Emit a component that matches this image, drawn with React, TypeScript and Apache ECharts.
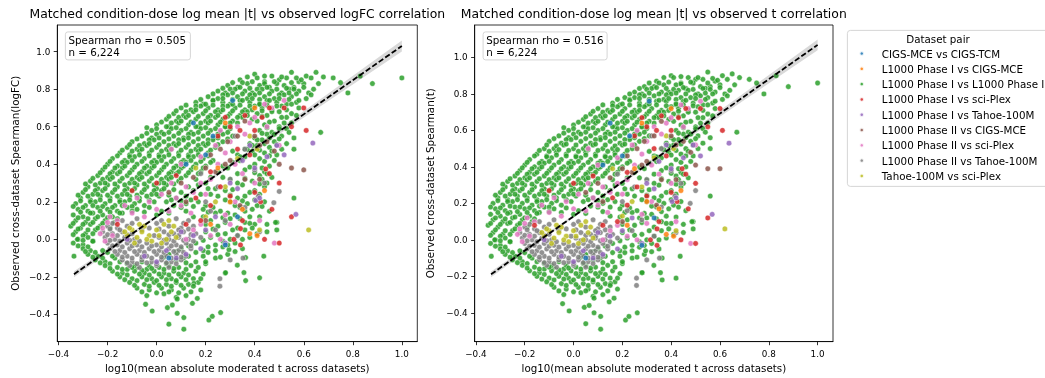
import React, { useEffect, useRef } from "react";
import * as echarts from "echarts";

const CATEGORIES = [
  "CIGS-MCE vs CIGS-TCM",
  "L1000 Phase I vs CIGS-MCE",
  "L1000 Phase I vs L1000 Phase I",
  "L1000 Phase I vs sci-Plex",
  "L1000 Phase I vs Tahoe-100M",
  "L1000 Phase II vs CIGS-MCE",
  "L1000 Phase II vs sci-Plex",
  "L1000 Phase II vs Tahoe-100M",
  "Tahoe-100M vs sci-Plex",
];
const COLORS = ["#1f77b4", "#ff7f0e", "#2ca02c", "#d62728", "#9467bd", "#8c564b", "#e377c2", "#7f7f7f", "#bcbd22"];

const TITLES = [
  "Matched condition-dose log mean |t| vs observed logFC correlation",
  "Matched condition-dose log mean |t| vs observed t correlation",
];
const Y_NAMES = ["Observed cross-dataset Spearman(logFC)", "Observed cross-dataset Spearman(t)"];
const X_NAME = "log10(mean absolute moderated t across datasets)";
const RHO = ["0.505", "0.516"];
const N_LABEL = "6,224";

const X_TICKS = [-0.4, -0.2, 0.0, 0.2, 0.4, 0.6, 0.8, 1.0];
const Y_TICKS = [-0.4, -0.2, 0.0, 0.2, 0.4, 0.6, 0.8, 1.0];

// regression fits and confidence bands
const FIT_X_FC = [-0.337, 1.0];
const FIT_Y_FC = [-0.186, 1.03];
const FIT_X_T = [-0.338, 1.0];
const FIT_Y_T = [-0.189, 1.069];
const BAND_X_FC = [-0.337, -0.1, 0.1, 0.4, 0.7, 1.0];
const BAND_LO_FC = [-0.202, 0.021, 0.205, 0.472, 0.737, 1.001];
const BAND_HI_FC = [-0.17, 0.039, 0.219, 0.496, 0.777, 1.059];
const BAND_X_T = [-0.338, -0.1, 0.1, 0.4, 0.7, 1.0];
const BAND_LO_T = [-0.205, 0.026, 0.216, 0.493, 0.767, 1.04];
const BAND_HI_T = [-0.173, 0.044, 0.23, 0.517, 0.807, 1.098];

// points: [x, Spearman(logFC), Spearman(t)]
const GREEN = [
[0.40,0.88,0.90],[0.47,0.87,0.89],[0.55,0.89,0.92],[0.61,0.87,0.90],[0.65,0.89,0.91],
[0.34,0.85,0.87],[0.41,0.86,0.89],[0.44,0.84,0.86],[0.50,0.85,0.88],[0.53,0.86,0.88],[0.58,0.84,0.87],[0.63,0.86,0.88],[0.72,0.86,0.88],[0.83,0.87,0.90],[1.00,0.86,0.86],
[0.29,0.82,0.84],[0.33,0.81,0.84],[0.37,0.83,0.85],[0.42,0.82,0.85],[0.46,0.81,0.83],[0.49,0.83,0.86],[0.52,0.82,0.84],[0.56,0.81,0.84],[0.60,0.83,0.85],[0.75,0.835,0.86],[0.88,0.83,0.84],
[0.25,0.79,0.81],[0.28,0.78,0.80],[0.32,0.80,0.83],[0.36,0.79,0.81],[0.39,0.78,0.81],[0.43,0.80,0.82],[0.47,0.79,0.82],[0.51,0.78,0.80],[0.54,0.80,0.83],[0.58,0.79,0.81],[0.62,0.78,0.80],[0.78,0.78,0.80],
[0.21,0.76,0.78],[0.25,0.75,0.78],[0.29,0.77,0.79],[0.33,0.76,0.79],[0.37,0.75,0.77],[0.40,0.77,0.80],[0.44,0.76,0.78],[0.48,0.75,0.78],[0.52,0.77,0.79],[0.55,0.76,0.78],[0.61,0.75,0.77],
[0.16,0.73,0.75],[0.19,0.72,0.74],[0.23,0.74,0.77],[0.27,0.73,0.75],[0.30,0.72,0.74],[0.34,0.74,0.76],[0.38,0.73,0.76],[0.42,0.72,0.74],[0.45,0.74,0.76],[0.49,0.73,0.75],[0.53,0.72,0.74],[0.57,0.73,0.75],
[0.10,0.70,0.72],[0.14,0.69,0.71],[0.18,0.71,0.73],[0.21,0.70,0.72],[0.25,0.69,0.71],[0.29,0.71,0.73],[0.32,0.70,0.72],[0.36,0.69,0.71],[0.40,0.71,0.73],[0.43,0.70,0.72],[0.47,0.69,0.71],[0.51,0.71,0.73],[0.58,0.70,0.72],
[0.07,0.67,0.69],[0.11,0.66,0.68],[0.15,0.68,0.70],[0.19,0.67,0.69],[0.22,0.66,0.68],[0.26,0.68,0.70],[0.30,0.67,0.69],[0.34,0.66,0.68],[0.37,0.68,0.70],[0.41,0.67,0.69],[0.45,0.66,0.68],[0.50,0.68,0.70],[0.55,0.67,0.69],
[0.04,0.64,0.66],[0.08,0.63,0.65],[0.12,0.65,0.67],[0.16,0.64,0.66],[0.20,0.63,0.65],[0.24,0.65,0.67],[0.27,0.64,0.66],[0.31,0.63,0.65],[0.35,0.65,0.67],[0.39,0.64,0.66],[0.48,0.63,0.65],[0.53,0.65,0.67],
[0.00,0.61,0.63],[0.05,0.60,0.62],[0.09,0.62,0.64],[0.13,0.61,0.63],[0.17,0.60,0.62],[0.21,0.62,0.64],[0.25,0.61,0.63],[0.28,0.60,0.62],[0.33,0.62,0.64],[0.44,0.61,0.63],[0.50,0.60,0.62],[0.55,0.62,0.64],
[-0.02,0.58,0.60],[0.02,0.57,0.59],[0.06,0.59,0.61],[0.10,0.58,0.60],[0.14,0.57,0.59],[0.18,0.59,0.61],[0.22,0.58,0.60],[0.26,0.57,0.59],[0.30,0.59,0.61],[0.42,0.58,0.60],[0.47,0.57,0.59],[0.53,0.59,0.61],
[-0.06,0.55,0.57],[-0.02,0.54,0.56],[0.03,0.56,0.58],[0.07,0.55,0.57],[0.11,0.54,0.56],[0.15,0.56,0.58],[0.19,0.55,0.57],[0.23,0.54,0.56],[0.27,0.56,0.58],[0.31,0.55,0.57],[0.40,0.54,0.56],[0.45,0.56,0.58],[0.51,0.55,0.57],[0.56,0.54,0.56],
[-0.10,0.52,0.54],[-0.05,0.51,0.53],[-0.01,0.53,0.55],[0.03,0.52,0.54],[0.07,0.51,0.53],[0.11,0.53,0.55],[0.15,0.52,0.54],[0.19,0.51,0.53],[0.23,0.53,0.55],[0.27,0.52,0.54],[0.38,0.51,0.53],[0.43,0.53,0.55],[0.48,0.52,0.54],[0.53,0.51,0.53],
[-0.12,0.49,0.50],[-0.08,0.48,0.50],[-0.04,0.50,0.52],[0.00,0.49,0.50],[0.04,0.48,0.50],[0.08,0.50,0.52],[0.12,0.49,0.50],[0.16,0.48,0.50],[0.20,0.50,0.52],[0.24,0.49,0.50],[0.36,0.48,0.50],[0.41,0.50,0.52],[0.46,0.49,0.50],[0.51,0.48,0.50],
[-0.15,0.46,0.47],[-0.11,0.45,0.46],[-0.07,0.47,0.48],[-0.03,0.46,0.47],[0.01,0.45,0.46],[0.05,0.47,0.48],[0.09,0.46,0.47],[0.13,0.45,0.46],[0.17,0.47,0.48],[0.21,0.46,0.47],[0.33,0.45,0.46],[0.39,0.47,0.48],[0.44,0.46,0.47],[0.49,0.45,0.46],
[-0.18,0.43,0.44],[-0.13,0.42,0.43],[-0.09,0.44,0.45],[-0.05,0.43,0.44],[-0.01,0.42,0.43],[0.03,0.44,0.45],[0.07,0.43,0.44],[0.11,0.42,0.43],[0.15,0.44,0.45],[0.19,0.43,0.44],[0.23,0.42,0.43],[0.36,0.44,0.45],[0.42,0.43,0.44],[0.48,0.42,0.43],
[-0.20,0.40,0.41],[-0.16,0.39,0.40],[-0.12,0.41,0.42],[-0.08,0.40,0.41],[-0.04,0.39,0.40],[0.00,0.41,0.42],[0.04,0.40,0.41],[0.08,0.39,0.40],[0.12,0.41,0.42],[0.16,0.40,0.41],[0.20,0.39,0.40],[0.31,0.41,0.42],[0.40,0.40,0.41],[0.46,0.39,0.40],
[-0.22,0.37,0.38],[-0.18,0.36,0.37],[-0.14,0.38,0.39],[-0.10,0.37,0.38],[-0.06,0.36,0.37],[-0.02,0.38,0.39],[0.02,0.37,0.38],[0.06,0.36,0.37],[0.10,0.38,0.39],[0.14,0.37,0.38],[0.18,0.36,0.37],[0.29,0.38,0.39],[0.36,0.37,0.38],[0.44,0.36,0.37],
[-0.24,0.34,0.35],[-0.20,0.33,0.34],[-0.16,0.35,0.36],[-0.12,0.34,0.35],[-0.08,0.33,0.34],[-0.04,0.35,0.36],[0.00,0.34,0.35],[0.04,0.33,0.34],[0.08,0.35,0.36],[0.12,0.34,0.35],[0.22,0.33,0.34],[0.33,0.35,0.36],[0.42,0.34,0.35],[0.47,0.33,0.34],
[-0.27,0.31,0.32],[-0.23,0.30,0.31],[-0.19,0.32,0.33],[-0.15,0.31,0.32],[-0.11,0.30,0.31],[-0.07,0.32,0.33],[-0.03,0.31,0.32],[0.01,0.30,0.31],[0.05,0.32,0.33],[0.09,0.31,0.32],[0.20,0.30,0.31],[0.30,0.32,0.33],[0.39,0.31,0.32],[0.45,0.30,0.31],
[-0.28,0.28,0.29],[-0.24,0.27,0.28],[-0.20,0.29,0.30],[-0.16,0.28,0.29],[-0.12,0.27,0.28],[-0.08,0.29,0.30],[-0.04,0.28,0.29],[0.00,0.27,0.28],[0.04,0.29,0.30],[0.13,0.28,0.29],[0.24,0.27,0.28],[0.35,0.29,0.30],[0.44,0.28,0.29],
[-0.30,0.25,0.26],[-0.26,0.24,0.25],[-0.22,0.26,0.27],[-0.18,0.25,0.26],[-0.14,0.24,0.25],[-0.10,0.26,0.27],[-0.06,0.25,0.26],[-0.02,0.24,0.25],[0.02,0.26,0.27],[0.10,0.25,0.26],[0.18,0.24,0.25],[0.28,0.26,0.27],[0.38,0.25,0.26],[0.42,0.24,0.25],
[-0.31,0.22,0.23],[-0.27,0.21,0.22],[-0.23,0.23,0.24],[-0.19,0.22,0.23],[-0.15,0.21,0.22],[-0.11,0.23,0.24],[-0.07,0.22,0.23],[-0.03,0.21,0.22],[0.01,0.23,0.24],[0.08,0.22,0.23],[0.14,0.21,0.22],[0.25,0.23,0.24],[0.33,0.22,0.23],[0.40,0.21,0.22],[0.56,0.22,0.24],
[-0.33,0.19,0.20],[-0.29,0.18,0.19],[-0.25,0.20,0.21],[-0.21,0.19,0.20],[-0.17,0.18,0.19],[-0.13,0.20,0.21],[-0.09,0.19,0.20],[-0.05,0.18,0.19],[0.04,0.20,0.21],[0.12,0.19,0.20],[0.20,0.18,0.19],[0.30,0.20,0.21],[0.37,0.19,0.20],[0.41,0.18,0.19],
[-0.32,0.16,0.17],[-0.28,0.15,0.16],[-0.24,0.17,0.18],[-0.20,0.16,0.17],[-0.16,0.15,0.16],[-0.12,0.17,0.18],[-0.08,0.16,0.17],[0.02,0.15,0.16],[0.10,0.17,0.18],[0.19,0.16,0.17],[0.26,0.15,0.16],[0.34,0.17,0.18],[0.39,0.16,0.17],[0.46,0.15,0.16],
[-0.34,0.13,0.14],[-0.30,0.12,0.13],[-0.26,0.14,0.15],[-0.22,0.13,0.14],[-0.18,0.12,0.13],[-0.14,0.14,0.15],[0.00,0.13,0.14],[0.15,0.12,0.13],[0.24,0.14,0.15],[0.32,0.13,0.14],[0.38,0.12,0.13],
[-0.33,0.10,0.11],[-0.29,0.09,0.10],[-0.25,0.11,0.12],[-0.21,0.10,0.11],[-0.17,0.09,0.10],[0.22,0.10,0.11],[0.30,0.11,0.12],[0.36,0.09,0.10],[0.49,0.09,0.10],
[-0.35,0.07,0.08],[-0.31,0.06,0.07],[-0.27,0.08,0.09],[-0.23,0.07,0.08],[-0.19,0.06,0.07],[0.25,0.07,0.08],[0.33,0.06,0.07],[0.40,0.08,0.09],
[-0.33,0.04,0.04],[-0.29,0.03,0.03],[-0.25,0.05,0.05],[0.20,0.04,0.04],[0.28,0.03,0.03],[0.36,0.05,0.05],[0.45,0.04,0.04],[0.49,0.05,0.06],
[-0.32,0.00,0.00],[-0.28,0.01,0.01],[0.22,0.01,0.01],[0.30,0.00,0.00],[0.38,0.01,0.01],
[-0.34,-0.02,-0.02],[-0.30,-0.03,-0.03],[-0.26,-0.01,-0.01],[0.16,-0.02,-0.02],[0.24,-0.03,-0.03],[0.32,-0.02,-0.02],
[-0.30,-0.05,-0.05],[-0.27,-0.06,-0.06],[0.10,-0.05,-0.05],[0.19,-0.06,-0.06],[0.27,-0.04,-0.04],[0.35,-0.05,-0.05],
[-0.28,-0.08,-0.08],[-0.24,-0.09,-0.09],[-0.20,-0.07,-0.07],[0.05,-0.08,-0.08],[0.13,-0.09,-0.09],[0.21,-0.07,-0.07],[0.29,-0.08,-0.08],
[-0.25,-0.11,-0.11],[-0.21,-0.12,-0.12],[-0.17,-0.10,-0.10],[-0.12,-0.13,-0.13],[-0.06,-0.12,-0.12],[0.00,-0.13,-0.13],[0.08,-0.11,-0.11],[0.16,-0.12,-0.12],[0.24,-0.10,-0.10],
[-0.21,-0.14,-0.14],[-0.16,-0.15,-0.15],[-0.12,-0.16,-0.16],[-0.08,-0.15,-0.15],[-0.04,-0.16,-0.16],[0.01,-0.15,-0.15],[0.05,-0.14,-0.14],[0.09,-0.15,-0.15],[0.14,-0.14,-0.14],[0.20,-0.13,-0.13],
[-0.18,-0.17,-0.17],[-0.14,-0.18,-0.18],[-0.09,-0.17,-0.17],[-0.05,-0.18,-0.18],[-0.01,-0.17,-0.17],[0.03,-0.18,-0.18],[0.07,-0.17,-0.17],[0.11,-0.18,-0.18],[0.16,-0.17,-0.17],[0.28,-0.18,-0.18],
[-0.15,-0.20,-0.20],[-0.10,-0.21,-0.21],[-0.06,-0.20,-0.20],[-0.02,-0.21,-0.21],[0.02,-0.20,-0.20],[0.06,-0.21,-0.21],[0.10,-0.20,-0.20],[0.15,-0.21,-0.21],
[-0.11,-0.23,-0.23],[-0.05,-0.24,-0.24],[-0.01,-0.23,-0.23],[0.04,-0.24,-0.24],[0.08,-0.23,-0.23],[0.13,-0.24,-0.24],[0.17,-0.23,-0.23],
[-0.08,-0.26,-0.26],[-0.03,-0.27,-0.27],[0.02,-0.26,-0.26],[0.06,-0.27,-0.27],[0.11,-0.26,-0.26],[0.18,-0.27,-0.27],
[-0.04,-0.30,-0.30],[0.03,-0.29,-0.29],[0.08,-0.31,-0.31],[0.12,-0.30,-0.30],
[-0.045,-0.346,-0.35],[0.044,-0.364,-0.37],[0.084,-0.318,-0.32],[0.146,-0.341,-0.34],[0.166,-0.315,-0.32],[0.064,-0.35,-0.36],[-0.018,-0.382,-0.39],[0.084,-0.394,-0.40],[0.111,-0.417,-0.42],[0.05,-0.452,-0.46],[0.111,-0.479,-0.49],[0.213,-0.43,-0.44],[0.227,-0.41,-0.42],[0.261,-0.39,-0.40],[0.281,-0.178,-0.18],[0.329,-0.138,-0.14],[0.356,-0.177,-0.18],[0.363,-0.22,-0.22],[0.42,-0.205,-0.21],[0.437,-0.09,-0.09],[0.363,-0.097,-0.10],[0.152,-0.235,-0.24],[0.295,-0.055,-0.06],[-0.337,-0.09,-0.09],[-0.323,0.0,0.0],[0.669,0.57,0.59],[0.56,0.48,0.50],[0.485,0.09,0.10],
[0.37,0.865,0.89],[0.44,0.87,0.895],[0.51,0.865,0.89],[0.57,0.86,0.885],[0.68,0.865,0.89],
[0.31,0.835,0.86],[0.35,0.835,0.86],[0.39,0.84,0.865],[0.44,0.83,0.855],[0.48,0.84,0.865],[0.55,0.835,0.86],[0.59,0.85,0.875],[0.66,0.83,0.85],
[0.27,0.805,0.83],[0.30,0.80,0.825],[0.34,0.81,0.835],[0.38,0.805,0.83],[0.41,0.80,0.825],[0.45,0.81,0.835],[0.49,0.80,0.825],[0.53,0.805,0.83],[0.56,0.80,0.825],[0.60,0.81,0.835],[0.64,0.80,0.82],
[0.23,0.775,0.80],[0.27,0.77,0.795],[0.31,0.78,0.805],[0.35,0.775,0.80],[0.38,0.77,0.795],[0.42,0.78,0.805],[0.46,0.775,0.80],[0.50,0.77,0.795],[0.54,0.78,0.805],[0.57,0.775,0.80],[0.63,0.77,0.79],
[0.18,0.745,0.77],[0.23,0.74,0.765],[0.27,0.75,0.775],[0.31,0.745,0.77],[0.35,0.74,0.765],[0.39,0.75,0.775],[0.42,0.745,0.77],[0.46,0.74,0.765],[0.50,0.75,0.775],[0.54,0.745,0.77],[0.58,0.74,0.76],
[0.12,0.715,0.74],[0.16,0.71,0.735],[0.20,0.72,0.745],[0.23,0.715,0.74],[0.27,0.71,0.735],[0.31,0.72,0.745],[0.34,0.715,0.74],[0.38,0.71,0.735],[0.42,0.72,0.745],[0.45,0.715,0.74],[0.49,0.71,0.735],[0.55,0.72,0.74],
[0.08,0.685,0.705],[0.12,0.68,0.70],[0.16,0.69,0.71],[0.20,0.685,0.705],[0.24,0.68,0.70],[0.27,0.69,0.71],[0.31,0.685,0.705],[0.35,0.68,0.70],[0.39,0.69,0.71],[0.43,0.685,0.705],[0.47,0.68,0.70],[0.53,0.69,0.71],
[0.05,0.655,0.675],[0.09,0.65,0.67],[0.13,0.66,0.68],[0.17,0.655,0.675],[0.21,0.65,0.67],[0.25,0.66,0.68],[0.29,0.655,0.675],[0.33,0.65,0.67],[0.37,0.66,0.68],[0.43,0.655,0.675],[0.51,0.65,0.67],[0.57,0.66,0.68],
[0.02,0.625,0.645],[0.06,0.62,0.64],[0.10,0.63,0.65],[0.14,0.625,0.645],[0.18,0.62,0.64],[0.22,0.63,0.65],[0.26,0.625,0.645],[0.30,0.62,0.64],[0.41,0.63,0.65],[0.46,0.625,0.645],[0.52,0.62,0.64],
[-0.04,0.595,0.615],[0.00,0.59,0.61],[0.04,0.60,0.62],[0.08,0.595,0.615],[0.12,0.59,0.61],[0.16,0.60,0.62],[0.20,0.595,0.615],[0.24,0.59,0.61],[0.28,0.60,0.62],[0.45,0.595,0.615],[0.50,0.59,0.61],
[-0.04,0.565,0.585],[0.00,0.56,0.58],[0.05,0.57,0.59],[0.09,0.565,0.585],[0.13,0.56,0.58],[0.17,0.57,0.59],[0.21,0.565,0.585],[0.25,0.56,0.58],[0.29,0.57,0.59],[0.43,0.565,0.585],[0.48,0.56,0.58],[0.54,0.57,0.59],
[-0.08,0.535,0.555],[-0.03,0.53,0.55],[0.01,0.54,0.56],[0.05,0.535,0.555],[0.09,0.53,0.55],[0.13,0.54,0.56],[0.17,0.535,0.555],[0.21,0.53,0.55],[0.25,0.54,0.56],[0.29,0.535,0.555],[0.41,0.53,0.55],[0.46,0.54,0.56],[0.50,0.535,0.555],
[-0.11,0.505,0.52],[-0.07,0.50,0.515],[-0.03,0.51,0.525],[0.01,0.505,0.52],[0.05,0.50,0.515],[0.09,0.51,0.525],[0.13,0.505,0.52],[0.17,0.50,0.515],[0.21,0.51,0.525],[0.25,0.505,0.52],[0.39,0.50,0.515],[0.44,0.51,0.525],[0.49,0.505,0.52],
[-0.14,0.475,0.49],[-0.10,0.47,0.485],[-0.06,0.48,0.495],[-0.02,0.475,0.49],[0.02,0.47,0.485],[0.06,0.48,0.495],[0.10,0.475,0.49],[0.14,0.47,0.485],[0.18,0.48,0.495],[0.22,0.475,0.49],[0.31,0.47,0.485],[0.37,0.48,0.495],[0.42,0.475,0.49],[0.47,0.47,0.485],
[-0.16,0.445,0.46],[-0.11,0.44,0.455],[-0.07,0.45,0.465],[-0.03,0.445,0.46],[0.01,0.44,0.455],[0.05,0.45,0.465],[0.09,0.445,0.46],[0.13,0.44,0.455],[0.17,0.45,0.465],[0.21,0.445,0.46],[0.34,0.44,0.455],[0.40,0.45,0.465],[0.46,0.445,0.46],
[-0.19,0.415,0.425],[-0.14,0.41,0.42],[-0.10,0.42,0.43],[-0.06,0.415,0.425],[-0.02,0.41,0.42],[0.02,0.42,0.43],[0.06,0.415,0.425],[0.10,0.41,0.42],[0.14,0.42,0.43],[0.18,0.415,0.425],[0.22,0.41,0.42],[0.34,0.42,0.43],[0.44,0.415,0.425],
[-0.21,0.385,0.395],[-0.17,0.38,0.39],[-0.13,0.39,0.40],[-0.09,0.385,0.395],[-0.05,0.38,0.39],[-0.01,0.39,0.40],[0.03,0.385,0.395],[0.07,0.38,0.39],[0.11,0.39,0.40],[0.15,0.385,0.395],[0.19,0.38,0.39],[0.27,0.39,0.40],[0.38,0.385,0.395],[0.43,0.38,0.39],
[-0.23,0.355,0.365],[-0.19,0.35,0.36],[-0.15,0.36,0.37],[-0.11,0.355,0.365],[-0.07,0.35,0.36],[-0.03,0.36,0.37],[0.01,0.355,0.365],[0.05,0.35,0.36],[0.09,0.36,0.37],[0.13,0.355,0.365],[0.17,0.35,0.36],[0.25,0.36,0.37],[0.40,0.355,0.365],[0.45,0.35,0.36],
[-0.26,0.325,0.335],[-0.22,0.32,0.33],[-0.18,0.33,0.34],[-0.14,0.325,0.335],[-0.10,0.32,0.33],[-0.06,0.33,0.34],[-0.02,0.325,0.335],[0.02,0.32,0.33],[0.06,0.33,0.34],[0.10,0.325,0.335],[0.16,0.32,0.33],[0.27,0.33,0.34],[0.36,0.325,0.335],[0.43,0.32,0.33],
[-0.29,0.295,0.305],[-0.25,0.29,0.30],[-0.21,0.30,0.31],[-0.17,0.295,0.305],[-0.13,0.29,0.30],[-0.09,0.30,0.31],[-0.05,0.295,0.305],[-0.01,0.29,0.30],[0.03,0.30,0.31],[0.07,0.295,0.305],[0.17,0.29,0.30],[0.33,0.30,0.31],[0.42,0.295,0.305],
[-0.29,0.265,0.275],[-0.25,0.26,0.27],[-0.21,0.27,0.28],[-0.17,0.265,0.275],[-0.13,0.26,0.27],[-0.09,0.27,0.28],[-0.05,0.265,0.275],[-0.01,0.26,0.27],[0.03,0.27,0.28],[0.07,0.265,0.275],[0.15,0.26,0.27],[0.21,0.27,0.28],[0.31,0.265,0.275],[0.40,0.26,0.27],
[-0.32,0.235,0.245],[-0.28,0.23,0.24],[-0.24,0.24,0.25],[-0.20,0.235,0.245],[-0.16,0.23,0.24],[-0.12,0.24,0.25],[-0.08,0.235,0.245],[-0.04,0.23,0.24],[0.00,0.24,0.25],[0.05,0.235,0.245],[0.12,0.23,0.24],[0.22,0.24,0.25],[0.30,0.235,0.245],[0.36,0.23,0.24],
[-0.31,0.205,0.215],[-0.27,0.20,0.21],[-0.23,0.21,0.22],[-0.19,0.205,0.215],[-0.15,0.20,0.21],[-0.11,0.21,0.22],[-0.07,0.205,0.215],[-0.01,0.20,0.21],[0.06,0.21,0.22],[0.10,0.205,0.215],[0.17,0.20,0.21],[0.28,0.21,0.22],[0.35,0.205,0.215],[0.44,0.20,0.21],
[-0.34,0.175,0.18],[-0.30,0.17,0.175],[-0.26,0.18,0.185],[-0.22,0.175,0.18],[-0.18,0.17,0.175],[-0.14,0.18,0.185],[-0.10,0.175,0.18],[-0.03,0.17,0.175],[0.07,0.18,0.185],[0.15,0.175,0.18],[0.23,0.17,0.175],[0.32,0.18,0.185],[0.43,0.175,0.18],
[-0.31,0.145,0.15],[-0.27,0.14,0.145],[-0.23,0.15,0.155],[-0.19,0.145,0.15],[-0.15,0.14,0.145],[-0.10,0.15,0.155],[-0.05,0.145,0.15],[0.05,0.14,0.145],[0.12,0.15,0.155],[0.21,0.145,0.15],[0.29,0.14,0.145],[0.36,0.15,0.155],
[-0.32,0.115,0.12],[-0.28,0.11,0.115],[-0.24,0.12,0.125],[-0.20,0.115,0.12],[-0.16,0.11,0.115],[0.19,0.12,0.125],[0.27,0.115,0.12],[0.34,0.11,0.115],[0.42,0.12,0.125],
[-0.34,0.085,0.09],[-0.30,0.08,0.085],[-0.26,0.09,0.095],[-0.22,0.085,0.09],[0.20,0.08,0.085],[0.28,0.09,0.095],[0.38,0.085,0.09],[0.45,0.08,0.085],
[-0.32,0.055,0.055],[-0.28,0.05,0.05],[-0.24,0.06,0.06],[0.23,0.055,0.055],[0.31,0.05,0.05],[0.39,0.06,0.06],
[-0.34,0.025,0.025],[-0.30,0.02,0.02],[-0.26,0.03,0.03],[0.25,0.025,0.025],[0.33,0.02,0.02],[0.41,0.03,0.03],
[-0.30,-0.005,-0.005],[-0.26,-0.01,-0.01],[0.19,-0.005,-0.005],[0.27,-0.01,-0.01],[0.35,0.00,0.00],
[-0.32,-0.035,-0.035],[-0.28,-0.04,-0.04],[0.13,-0.035,-0.035],[0.21,-0.04,-0.04],[0.29,-0.03,-0.03],
[-0.29,-0.065,-0.065],[-0.25,-0.07,-0.07],[-0.22,-0.06,-0.06],[0.08,-0.065,-0.065],[0.16,-0.07,-0.07],[0.24,-0.06,-0.06],[0.32,-0.065,-0.065],
[-0.26,-0.095,-0.095],[-0.22,-0.10,-0.10],[-0.18,-0.09,-0.09],[0.03,-0.095,-0.095],[0.11,-0.10,-0.10],[0.19,-0.09,-0.09],[0.26,-0.095,-0.095],
[-0.23,-0.125,-0.125],[-0.19,-0.13,-0.13],[-0.15,-0.12,-0.12],[-0.09,-0.14,-0.14],[-0.03,-0.14,-0.14],[0.04,-0.13,-0.13],[0.12,-0.125,-0.125],[0.20,-0.12,-0.12],
[-0.19,-0.155,-0.155],[-0.14,-0.16,-0.16],[-0.10,-0.15,-0.15],[-0.06,-0.165,-0.165],[-0.02,-0.155,-0.155],[0.03,-0.16,-0.16],[0.07,-0.155,-0.155],[0.12,-0.16,-0.16],[0.17,-0.15,-0.15],
[-0.16,-0.185,-0.185],[-0.12,-0.19,-0.19],[-0.07,-0.185,-0.185],[-0.03,-0.19,-0.19],[0.01,-0.185,-0.185],[0.05,-0.19,-0.19],[0.09,-0.185,-0.185],[0.13,-0.19,-0.19],[0.19,-0.185,-0.185],
[-0.13,-0.215,-0.215],[-0.08,-0.22,-0.22],[-0.04,-0.215,-0.215],[0.00,-0.22,-0.22],[0.04,-0.215,-0.215],[0.08,-0.22,-0.22],[0.12,-0.215,-0.215],[0.18,-0.21,-0.21],
[-0.09,-0.245,-0.245],[-0.03,-0.25,-0.25],[0.01,-0.245,-0.245],[0.06,-0.25,-0.25],[0.10,-0.245,-0.245],[0.15,-0.25,-0.25],
[-0.06,-0.28,-0.28],[0.00,-0.285,-0.285],[0.05,-0.28,-0.28],[0.09,-0.285,-0.285],[0.14,-0.28,-0.28],
];

const GRAY = [
[-0.14,0.10,0.10],[-0.08,0.11,0.11],[0.02,0.10,0.10],[0.08,0.11,0.11],[0.13,0.10,0.10],
[-0.20,0.07,0.07],[-0.16,0.06,0.06],[-0.12,0.07,0.07],[-0.03,0.06,0.06],[0.05,0.07,0.07],[0.10,0.06,0.06],[0.15,0.07,0.07],
[-0.22,0.04,0.04],[-0.18,0.03,0.03],[-0.14,0.04,0.04],[-0.10,0.03,0.03],[0.03,0.04,0.04],[0.07,0.03,0.03],[0.11,0.04,0.04],[0.16,0.03,0.03],
[-0.21,0.01,0.01],[-0.17,0.00,0.00],[-0.13,0.01,0.01],[-0.09,0.00,0.00],[0.01,0.01,0.01],[0.05,0.00,0.00],[0.09,0.01,0.01],[0.13,0.00,0.00],[0.18,0.01,0.01],
[-0.20,-0.02,-0.02],[-0.16,-0.03,-0.03],[-0.12,-0.02,-0.02],[-0.08,-0.03,-0.03],[-0.04,-0.02,-0.02],[0.00,-0.03,-0.03],[0.04,-0.02,-0.02],[0.08,-0.03,-0.03],[0.12,-0.02,-0.02],
[-0.19,-0.05,-0.05],[-0.15,-0.06,-0.06],[-0.11,-0.05,-0.05],[-0.07,-0.06,-0.06],[-0.03,-0.05,-0.05],[0.01,-0.06,-0.06],[0.05,-0.05,-0.05],[0.09,-0.06,-0.06],[0.14,-0.05,-0.05],
[-0.16,-0.08,-0.08],[-0.12,-0.09,-0.09],[-0.08,-0.08,-0.08],[-0.04,-0.09,-0.09],[0.00,-0.08,-0.08],[0.04,-0.09,-0.09],[0.08,-0.08,-0.08],[0.12,-0.09,-0.09],
[-0.14,-0.11,-0.11],[-0.10,-0.12,-0.12],[-0.06,-0.11,-0.11],[-0.02,-0.12,-0.12],[0.02,-0.11,-0.11],[0.06,-0.12,-0.12],[0.10,-0.11,-0.11],
[-0.11,-0.14,-0.14],[-0.07,-0.15,-0.15],[0.00,-0.14,-0.14],[0.05,-0.15,-0.15],
[-0.18,0.085,0.085],[-0.10,0.085,0.085],[0.00,0.085,0.085],[0.11,0.085,0.085],
[-0.19,0.055,0.055],[-0.15,0.05,0.05],[-0.06,0.05,0.05],[0.01,0.055,0.055],[0.09,0.05,0.05],[0.13,0.055,0.055],
[-0.20,0.025,0.025],[-0.16,0.02,0.02],[-0.12,0.025,0.025],[-0.01,0.02,0.02],[0.05,0.025,0.025],[0.09,0.02,0.02],[0.14,0.025,0.025],
[-0.19,-0.005,-0.005],[-0.15,-0.01,-0.01],[-0.11,-0.005,-0.005],[-0.07,-0.01,-0.01],[0.03,-0.005,-0.005],[0.07,-0.01,-0.01],[0.11,-0.005,-0.005],[0.15,-0.01,-0.01],
[-0.18,-0.035,-0.035],[-0.14,-0.04,-0.04],[-0.10,-0.035,-0.035],[-0.06,-0.04,-0.04],[-0.02,-0.035,-0.035],[0.02,-0.04,-0.04],[0.06,-0.035,-0.035],[0.10,-0.04,-0.04],[0.14,-0.035,-0.035],
[-0.17,-0.065,-0.065],[-0.13,-0.07,-0.07],[-0.09,-0.065,-0.065],[-0.05,-0.07,-0.07],[-0.01,-0.065,-0.065],[0.03,-0.07,-0.07],[0.07,-0.065,-0.065],[0.11,-0.07,-0.07],
[-0.14,-0.095,-0.095],[-0.10,-0.10,-0.10],[-0.06,-0.095,-0.095],[-0.02,-0.10,-0.10],[0.02,-0.095,-0.095],[0.06,-0.10,-0.10],[0.10,-0.095,-0.095],
[-0.12,-0.125,-0.125],[-0.08,-0.13,-0.13],[-0.04,-0.125,-0.125],[0.00,-0.13,-0.13],[0.04,-0.125,-0.125],[0.08,-0.13,-0.13],
[0.20,0.20,0.21],[0.25,0.28,0.29],[0.30,0.32,0.33],[0.22,0.15,0.16],[0.28,0.10,0.11],[0.18,0.35,0.36],[0.32,0.55,0.57],[0.36,0.48,0.50],[0.40,0.37,0.38],[0.415,0.23,0.24],[0.478,0.195,0.20],[0.50,0.255,0.27],[0.352,-0.10,-0.10],[0.258,-0.21,-0.21],[0.258,-0.25,-0.25],[0.42,0.04,0.04],[0.33,0.02,0.02],[0.44,0.30,0.31],[0.24,0.05,0.05],[0.30,-0.11,-0.11],[0.36,0.17,0.18],
];

const YELLOW = [
[-0.12,0.02,0.02],[-0.10,0.05,0.05],[-0.08,0.01,0.01],[-0.06,0.04,0.04],[-0.05,0.07,0.07],[-0.03,0.02,0.02],[-0.02,-0.01,-0.01],[0.00,0.05,0.05],[0.01,0.02,0.02],[0.03,0.08,0.08],[0.04,0.00,0.00],[0.06,0.04,0.04],[-0.09,-0.02,-0.02],[-0.04,0.00,0.00],[0.02,-0.02,-0.02],[0.07,0.07,0.07],[-0.07,0.08,0.08],[0.05,0.10,0.10],[-0.11,0.06,0.06],[-0.13,0.04,0.04],[0.08,0.01,0.01],
[0.20,0.12,0.13],[0.28,0.28,0.29],[0.38,0.55,0.57],[0.41,0.48,0.50],[0.42,0.05,0.05],[0.16,0.38,0.39],[0.24,0.20,0.21],[0.62,0.05,0.06],[0.33,0.43,0.45],
];

const PINK = [
[-0.22,0.06,0.06],[-0.20,0.09,0.09],[-0.18,0.02,0.02],[-0.23,0.03,0.03],[-0.21,-0.01,-0.01],[-0.16,0.10,0.10],[-0.19,0.12,0.12],[-0.10,0.14,0.15],[-0.05,0.12,0.13],[0.00,0.16,0.17],[0.05,0.15,0.16],[0.08,0.22,0.23],[0.12,0.28,0.29],[0.15,0.25,0.26],[0.10,0.18,0.19],[0.18,0.30,0.31],[0.02,0.24,0.25],[-0.03,0.20,0.21],[0.06,0.30,0.31],[0.14,0.14,0.15],[0.20,0.24,0.25],[0.22,0.32,0.33],[0.25,0.40,0.41],[0.18,0.44,0.45],[0.28,0.46,0.47],[0.30,0.52,0.54],[0.26,0.58,0.60],[0.33,0.60,0.62],[0.36,0.56,0.58],[0.40,0.65,0.67],[0.44,0.72,0.74],[0.47,0.70,0.72],[0.52,0.74,0.76],[0.32,0.40,0.41],[0.35,0.35,0.36],[0.24,0.50,0.52],[0.38,0.62,0.64],[0.15,0.05,0.05],[0.12,0.00,0.00],[0.18,0.08,0.08],[0.22,0.02,0.02],[0.26,0.00,0.00],[0.40,0.30,0.31],[0.32,0.20,0.21],[0.42,0.10,0.10],[0.10,0.40,0.41],[0.06,0.48,0.50],[0.45,0.60,0.62],[0.50,0.50,0.52],[0.28,0.13,0.14],[-0.13,0.18,0.19],[-0.08,0.22,0.23],[0.48,-0.02,-0.02],[0.30,0.08,0.09],
];

const RED = [
[0.08,0.34,0.35],[0.12,0.08,0.08],[0.16,0.22,0.23],[0.22,0.36,0.37],[0.25,0.55,0.57],[0.28,0.65,0.67],[0.30,0.60,0.62],[0.34,0.58,0.60],[0.36,0.66,0.68],[0.40,0.58,0.60],[0.43,0.65,0.67],[0.46,0.70,0.72],[0.52,0.70,0.72],[0.60,0.70,0.72],[0.61,0.58,0.60],[0.55,0.60,0.62],[0.38,0.45,0.46],[0.445,0.375,0.39],[0.46,0.35,0.36],[0.50,0.30,0.31],[0.30,0.23,0.24],[0.26,0.28,0.29],[0.35,0.10,0.10],[0.342,0.057,0.06],[0.424,0.20,0.21],[0.44,0.00,0.00],[0.50,-0.02,-0.02],[0.47,0.16,0.17],[0.342,-0.03,-0.03],[0.55,0.12,0.12],[0.22,0.18,0.19],[0.18,0.10,0.10],[-0.10,0.26,0.27],[-0.16,0.08,0.08],[0.00,0.30,0.31],[0.315,0.00,0.00],[0.40,0.25,0.26],[0.33,0.48,0.50],
];

const PURPLE = [
[0.04,-0.06,-0.06],[0.08,-0.10,-0.10],[0.12,-0.08,-0.08],[0.00,-0.12,-0.12],[0.15,0.02,0.02],[0.20,0.05,0.05],[0.24,0.12,0.12],[0.30,0.30,0.31],[0.35,0.42,0.43],[0.40,0.38,0.39],[0.45,0.44,0.45],[0.49,0.50,0.52],[0.52,0.45,0.46],[0.637,0.513,0.53],[0.568,0.133,0.14],[0.404,0.207,0.21],[0.33,0.27,0.28],[0.28,-0.02,-0.02],[0.18,-0.05,-0.05],[0.38,0.50,0.52],[0.10,0.04,0.04],[-0.05,-0.09,-0.09],[0.42,0.22,0.23],[-0.12,0.00,0.00],
];

const BROWN = [
[0.10,0.30,0.31],[0.15,0.33,0.34],[0.20,0.38,0.39],[0.22,0.45,0.46],[0.26,0.48,0.50],[0.29,0.52,0.54],[0.33,0.55,0.57],[0.36,0.63,0.65],[0.30,0.42,0.43],[0.24,0.36,0.37],[0.40,0.55,0.57],[0.42,0.50,0.52],[0.45,0.52,0.54],[0.48,0.47,0.48],[0.55,0.38,0.39],[0.50,0.40,0.41],[0.36,0.32,0.33],[0.28,0.40,0.41],[0.12,0.20,0.21],[0.05,0.25,0.26],[0.34,0.18,0.19],[0.42,0.32,0.33],[0.60,0.37,0.39],[0.20,0.10,0.10],
];

const ORANGE = [
[0.28,0.62,0.64],[0.41,0.02,0.02],[0.38,0.03,0.03],[0.25,0.38,0.39],[0.30,0.20,0.21],[0.44,0.26,0.27],[0.35,0.16,0.17],[0.22,0.08,0.08],[0.40,0.70,0.72],
];

const BLUE = [
[0.31,0.74,0.76],[0.20,0.45,0.46],[0.28,-0.03,-0.03],[0.15,0.62,0.64],[0.05,-0.10,-0.10],[0.23,0.55,0.57],[0.33,0.12,0.12],[0.12,0.40,0.41],
];

// draw order (category index, points)
const GROUPS: [number, number[][]][] = [
  [2, GREEN], [7, GRAY], [8, YELLOW], [6, PINK], [5, BROWN], [3, RED], [4, PURPLE], [1, ORANGE], [0, BLUE],
];

const FONT = "DejaVu Sans";
const fmt = (v: number) => v.toFixed(1).replace("-", "\u2212");

export default function App() {
  const ref = useRef<HTMLDivElement>(null);
  useEffect(() => {
    if (!ref.current) return;
    const chart = echarts.init(ref.current, null, { renderer: "svg" });

    const grids = [
      { left: 57.3, right: 627.7, top: 25, bottom: 34.7 },
      { left: 474.7, right: 212, top: 25, bottom: 34.7 },
    ];
    const yExt = [
      [-0.545, 1.142],
      [-0.558, 1.178],
    ];
    const yNameGap = [37, 40];

    const series: any[] = [];
    [0, 1].forEach((p) => {
      GROUPS.forEach(([ci, pts]) => {
        series.push({
          type: "scatter",
          name: CATEGORIES[ci],
          xAxisIndex: p,
          yAxisIndex: p,
          data: pts.map((d) => [d[0], d[p + 1]]),
          symbolSize: 5.5,
          itemStyle: { color: COLORS[ci], borderColor: "#ffffff", borderWidth: 0.5, opacity: 0.85 },
          emphasis: { disabled: true },
          silent: true,
          z: 2,
        });
      });
      const bx = p === 0 ? BAND_X_FC : BAND_X_T;
      const blo = p === 0 ? BAND_LO_FC : BAND_LO_T;
      const bhi = p === 0 ? BAND_HI_FC : BAND_HI_T;
      series.push({
        type: "custom",
        xAxisIndex: p,
        yAxisIndex: p,
        silent: true,
        z: 3,
        data: [[bx[0], blo[0]]],
        renderItem: (_params: any, api: any) => {
          const pts: number[][] = [];
          for (let i = 0; i < bx.length; i++) pts.push(api.coord([bx[i], bhi[i]]));
          for (let i = bx.length - 1; i >= 0; i--) pts.push(api.coord([bx[i], blo[i]]));
          return { type: "polygon", shape: { points: pts }, style: { fill: "rgba(0,0,0,0.15)" } };
        },
      });
      const fx = p === 0 ? FIT_X_FC : FIT_X_T;
      const fy = p === 0 ? FIT_Y_FC : FIT_Y_T;
      series.push({
        type: "line",
        xAxisIndex: p,
        yAxisIndex: p,
        silent: true,
        z: 4,
        symbol: "none",
        data: fx.map((x, i) => [x, fy[i]]),
        lineStyle: { color: "#000000", width: 1.8, type: [5.5, 2.4] },
      });
    });

    const annX = [65, 482.7];
    const graphic: any[] = [];
    [0, 1].forEach((p) => {
      graphic.push({
        type: "rect",
        left: annX[p],
        top: 31.5,
        shape: { width: p === 0 ? 125 : 124, height: 28, r: 2.5 },
        style: { fill: "rgba(255,255,255,0.8)", stroke: "#cccccc", lineWidth: 0.8 },
        z: 10,
      });
      graphic.push({
        type: "text",
        left: annX[p] + 3.5,
        top: 33.5,
        style: {
          text: "Spearman rho = " + RHO[p] + "\nn = " + N_LABEL,
          font: "10.3px " + FONT,
          fill: "#000000",
          lineHeight: 12.4,
        },
        z: 11,
      });
    });
    graphic.push({
      type: "rect",
      left: 847,
      top: 30,
      shape: { width: 260, height: 156, r: 3 },
      style: { fill: "rgba(255,255,255,0.8)", stroke: "#cccccc", lineWidth: 0.8 },
      z: 10,
    });
    graphic.push({
      type: "text",
      x: 938,
      y: 39,
      style: { text: "Dataset pair", font: "10.3px " + FONT, fill: "#000000", align: "center", verticalAlign: "middle" },
      z: 11,
    });

    chart.setOption({
      animation: false,
      textStyle: { fontFamily: FONT },
      title: [0, 1].map((p) => ({
        text: TITLES[p],
        left: p === 0 ? 237.3 : 653.8,
        top: 7,
        padding: 0,
        textAlign: "center",
        textStyle: { fontFamily: FONT, fontSize: 12.4, fontWeight: "normal", color: "#000000" },
      })),
      grid: grids.map((g) => ({ ...g, show: true, borderColor: "#000000", borderWidth: 0.8, backgroundColor: "transparent" })),
      xAxis: [0, 1].map((p) => ({
        type: "value",
        gridIndex: p,
        min: -0.405,
        max: 1.063,
        name: X_NAME,
        nameLocation: "middle",
        nameGap: 21,
        nameTextStyle: { fontFamily: FONT, fontSize: 10.3, color: "#000000" },
        axisLine: { show: true, onZero: false, lineStyle: { color: "#000000", width: 0.8 } },
        axisTick: { show: true, length: 3.6, lineStyle: { color: "#000000", width: 0.8 }, customValues: X_TICKS },
        axisLabel: { customValues: X_TICKS, formatter: fmt, fontSize: 8.8, color: "#000000", fontFamily: FONT, margin: 7.5 },
        splitLine: { show: false },
      })),
      yAxis: [0, 1].map((p) => ({
        type: "value",
        gridIndex: p,
        min: yExt[p][0],
        max: yExt[p][1],
        name: Y_NAMES[p],
        nameLocation: "middle",
        nameGap: yNameGap[p],
        nameTextStyle: { fontFamily: FONT, fontSize: 10.3, color: "#000000" },
        axisLine: { show: true, onZero: false, lineStyle: { color: "#000000", width: 0.8 } },
        axisTick: { show: true, length: 3.6, lineStyle: { color: "#000000", width: 0.8 }, customValues: Y_TICKS },
        axisLabel: { customValues: Y_TICKS, formatter: fmt, fontSize: 8.8, color: "#000000", fontFamily: FONT, margin: 7 },
        splitLine: { show: false },
      })),
      legend: {
        data: CATEGORIES,
        orient: "vertical",
        left: 853.5,
        top: 43,
        icon: "circle",
        itemWidth: 30,
        itemHeight: 4.5,
        itemGap: 4.3,
        selectedMode: false,
        z: 12,
        textStyle: { fontFamily: FONT, fontSize: 10.3, color: "#000000", lineHeight: 11 },
      },
      graphic,
      series,
    });
    return () => chart.dispose();
  }, []);
  return <div ref={ref} style={{ position: "fixed", left: 0, top: 0, width: 1045, height: 378 }} />;
}
